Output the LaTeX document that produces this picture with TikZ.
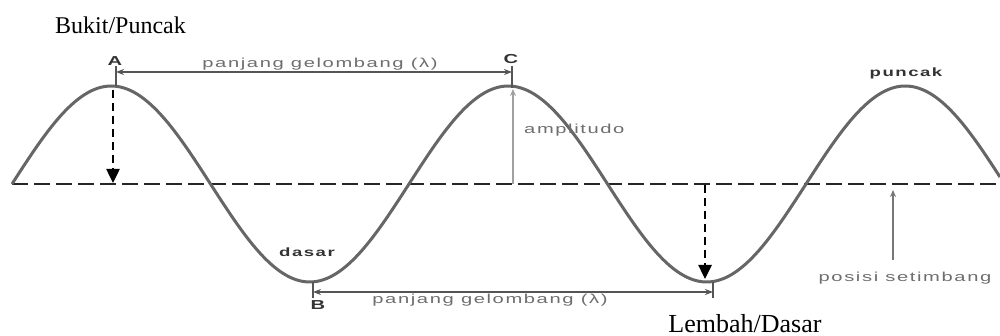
\documentclass[tikz,border=0pt]{standalone}
\usepackage{fontspec}
\usepackage{graphicx}
\setmainfont{Liberation Serif}
\newfontfamily\lblfont{Liberation Sans}[LetterSpace=8]
\usetikzlibrary{arrows.meta}
\definecolor{wavegray}{HTML}{666666}
\definecolor{lblgray}{HTML}{6E6E6E}
\definecolor{arrgray}{HTML}{555555}
\definecolor{lightgray2}{HTML}{A0A0A0}
\newcommand{\widen}[1]{\scalebox{1.55}[1]{#1}}
\tikzset{
  eqline/.style={draw=black!85, line width=2.6pt, dash pattern=on 16pt off 6pt},
  wave/.style={draw=wavegray, line width=3pt},
  glbl/.style={font=\lblfont\fontsize{13}{13}\selectfont, text=lblgray, inner sep=0pt},
  boldlbl/.style={font=\lblfont\bfseries\fontsize{12}{12}\selectfont, text=black!80, inner sep=0pt},
  letterlbl/.style={font=\lblfont\bfseries\fontsize{13}{13}\selectfont, text=black!80, inner sep=0pt},
  serifbig/.style={font=\fontsize{24}{24}\selectfont, inner sep=0pt},
  seriflarge/.style={font=\fontsize{26}{26}\selectfont, inner sep=0pt},
  tickline/.style={draw=arrgray, line width=1.4pt},
  dimarrow/.style={draw=arrgray, line width=1.3pt, {Stealth[length=8pt,width=6pt]}-{Stealth[length=8pt,width=6pt]}},
  thinarrow/.style={draw=lightgray2, line width=1.8pt, -{Stealth[length=7pt,width=6pt]}},
  blackdash/.style={draw=black, line width=2.5pt, dash pattern=on 8pt off 5pt, -{Triangle[length=14pt,width=13pt]}}
}
\begin{document}
\begin{tikzpicture}[x=1pt,y=-1pt]
\useasboundingbox (0,0) rectangle (1000,336);
\fill[white] (0,0) rectangle (1000,336);
% equilibrium line
\coordinate (eqL) at (12,184);
\coordinate (eqR) at (1000,184);
\draw[eqline] (eqL) -- (eqR);
% wave
\draw[wave] plot[domain=12:1000,samples=300] (\x,{184-98*sin(0.906801*(\x-12))});
% labels
\node[serifbig, anchor=base west] (bukit) at (55,34) {Bukit/Puncak};
\node[letterlbl] (A) at (115,61) {\widen{A}};
\node[letterlbl] (C) at (511,59) {\widen{C}};
\node[letterlbl] (B) at (318,305) {\widen{B}};
\node[boldlbl] (puncak) at (906,73) {\widen{puncak}};
\node[boldlbl] (dasar) at (307,252) {\widen{dasar}};
\node[glbl] (lam1) at (320,64) {\widen{panjang gelombang (λ)}};
\node[glbl] (lam2) at (490,300) {\widen{panjang gelombang (λ)}};
\node[glbl, anchor=west] (amp) at (524,130) {\widen{amplitudo}};
\node[glbl] (pos) at (905,278) {\widen{posisi setimbang}};
\node[seriflarge, anchor=base] (lembah) at (745,332) {Lembah/Dasar};
% upper wavelength
\coordinate (t1a) at (116,66); \coordinate (t1b) at (116,86);
\coordinate (t2a) at (512,66); \coordinate (t2b) at (512,88);
\draw[tickline] (t1a) -- (t1b);
\draw[tickline] (t2a) -- (t2b);
\coordinate (l1L) at (116,72); \coordinate (l1R) at (512,72);
\draw[dimarrow] (l1L) -- (l1R);
% lower wavelength
\coordinate (t3a) at (313,282); \coordinate (t3b) at (313,298);
\coordinate (t4a) at (713,282); \coordinate (t4b) at (713,298);
\draw[tickline] (t3a) -- (t3b);
\draw[tickline] (t4a) -- (t4b);
\coordinate (l2L) at (313,292); \coordinate (l2R) at (713,292);
\draw[dimarrow] (l2L) -- (l2R);
% amplitude
\coordinate (ampB) at (513,184); \coordinate (ampT) at (513,89);
\draw[thinarrow] (ampB) -- (ampT);
% equilibrium pointer
\coordinate (pA) at (893,260); \coordinate (pB) at (893,190);
\draw[thinarrow, draw=arrgray!80] (pA) -- (pB);
% black dashed arrows
\coordinate (dA1) at (113,90); \coordinate (dA2) at (113,183);
\draw[blackdash] (dA1) -- (dA2);
\coordinate (dB1) at (705,185); \coordinate (dB2) at (705,279);
\draw[blackdash] (dB1) -- (dB2);
\end{tikzpicture}
\end{document}
